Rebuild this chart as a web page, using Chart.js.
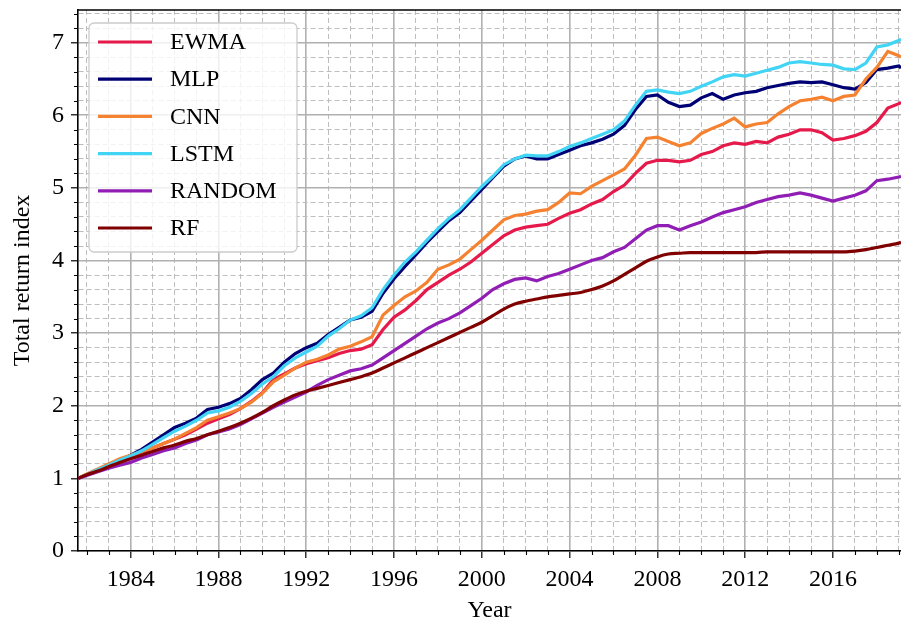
<!DOCTYPE html>
<html>
<head>
<meta charset="utf-8">
<title>Total return index</title>
<script src="https://cdn.jsdelivr.net/npm/chart.js@4.4.1/dist/chart.umd.min.js"></script>
<style>
  html, body { margin: 0; padding: 0; background: #fff; }
  #wrap { width: 901px; height: 628px; }
</style>
</head>
<body>
<div id="wrap"><canvas id="myChart" width="901" height="628"></canvas></div>
<script>
// sample dates (fractional years)
const years = [1981.6, 1982, 1982.5, 1983, 1983.5, 1984, 1984.5, 1985, 1985.5,
  1986, 1986.5, 1987, 1987.5, 1988, 1988.5, 1989, 1989.5, 1990, 1990.5,
  1991, 1991.5, 1992, 1992.5, 1993, 1993.5, 1994, 1994.5, 1995, 1995.5,
  1996, 1996.5, 1997, 1997.5, 1998, 1998.5, 1999, 1999.5, 2000, 2000.5,
  2001, 2001.5, 2002, 2002.5, 2003, 2003.5, 2004, 2004.5, 2005, 2005.5,
  2006, 2006.5, 2007, 2007.5, 2008, 2008.5, 2009, 2009.5, 2010, 2010.5,
  2011, 2011.5, 2012, 2012.5, 2013, 2013.5, 2014, 2014.5, 2015, 2015.5,
  2016, 2016.5, 2017, 2017.5, 2018, 2018.5, 2019, 2019.1];

const ewma = [1.00, 1.05, 1.12, 1.19, 1.25, 1.30, 1.36, 1.42, 1.48,
  1.54, 1.60, 1.68, 1.76, 1.82, 1.88, 1.96, 2.06, 2.18, 2.36,
  2.44, 2.52, 2.58, 2.62, 2.66, 2.72, 2.76, 2.78, 2.84, 3.05,
  3.22, 3.32, 3.45, 3.60, 3.70, 3.80, 3.88, 3.98, 4.10, 4.22,
  4.34, 4.42, 4.46, 4.48, 4.50, 4.58, 4.65, 4.70, 4.78, 4.84,
  4.95, 5.04, 5.20, 5.34, 5.38, 5.38, 5.36, 5.38, 5.46, 5.50,
  5.58, 5.62, 5.60, 5.64, 5.62, 5.70, 5.74, 5.80, 5.80, 5.76,
  5.66, 5.68, 5.72, 5.78, 5.90, 6.10, 6.16, 6.18];

const mlp = [1.00, 1.05, 1.12, 1.18, 1.25, 1.32, 1.40, 1.50, 1.60,
  1.70, 1.76, 1.83, 1.95, 1.98, 2.03, 2.10, 2.22, 2.36, 2.45,
  2.60, 2.72, 2.80, 2.86, 2.98, 3.08, 3.18, 3.22, 3.30, 3.55,
  3.75, 3.92, 4.08, 4.25, 4.40, 4.55, 4.66, 4.82, 4.98, 5.14,
  5.30, 5.40, 5.44, 5.40, 5.40, 5.46, 5.52, 5.58, 5.62, 5.67,
  5.74, 5.86, 6.08, 6.26, 6.28, 6.18, 6.12, 6.14, 6.24, 6.30,
  6.22, 6.28, 6.31, 6.33, 6.38, 6.41, 6.44, 6.46, 6.45, 6.46,
  6.42, 6.38, 6.36, 6.45, 6.63, 6.65, 6.68, 6.65];

const cnn = [1.00, 1.06, 1.13, 1.20, 1.27, 1.32, 1.37, 1.42, 1.48,
  1.54, 1.62, 1.70, 1.80, 1.85, 1.90, 1.96, 2.05, 2.17, 2.33,
  2.42, 2.52, 2.60, 2.64, 2.70, 2.78, 2.82, 2.88, 2.95, 3.25,
  3.38, 3.50, 3.58, 3.70, 3.88, 3.94, 4.02, 4.15, 4.28, 4.42,
  4.56, 4.62, 4.64, 4.68, 4.70, 4.80, 4.93, 4.92, 5.02, 5.10,
  5.18, 5.26, 5.45, 5.68, 5.70, 5.64, 5.58, 5.62, 5.75, 5.82,
  5.88, 5.96, 5.84, 5.88, 5.90, 6.02, 6.12, 6.20, 6.22, 6.25,
  6.20, 6.26, 6.28, 6.50, 6.66, 6.88, 6.82, 6.80];

const lstm = [1.00, 1.05, 1.12, 1.18, 1.25, 1.31, 1.38, 1.47, 1.56,
  1.65, 1.72, 1.80, 1.90, 1.93, 1.98, 2.06, 2.17, 2.30, 2.40,
  2.55, 2.66, 2.74, 2.82, 2.96, 3.06, 3.18, 3.24, 3.35, 3.60,
  3.80, 3.98, 4.12, 4.28, 4.44, 4.58, 4.70, 4.86, 5.02, 5.16,
  5.32, 5.40, 5.45, 5.44, 5.44, 5.50, 5.57, 5.62, 5.68, 5.74,
  5.80, 5.92, 6.14, 6.33, 6.35, 6.32, 6.30, 6.33, 6.40, 6.46,
  6.53, 6.56, 6.54, 6.58, 6.62, 6.66, 6.72, 6.74, 6.72, 6.70,
  6.69, 6.64, 6.63, 6.72, 6.94, 6.97, 7.03, 7.05];

const random = [1.00, 1.04, 1.09, 1.14, 1.18, 1.22, 1.28, 1.33, 1.38,
  1.42, 1.48, 1.53, 1.60, 1.64, 1.68, 1.74, 1.82, 1.90, 1.98,
  2.05, 2.12, 2.19, 2.28, 2.36, 2.42, 2.48, 2.51, 2.56, 2.66,
  2.76, 2.86, 2.96, 3.06, 3.14, 3.20, 3.28, 3.38, 3.48, 3.60,
  3.68, 3.74, 3.76, 3.72, 3.78, 3.82, 3.88, 3.94, 4.00, 4.04,
  4.12, 4.18, 4.30, 4.42, 4.48, 4.48, 4.42, 4.48, 4.53, 4.60,
  4.66, 4.70, 4.74, 4.80, 4.84, 4.88, 4.90, 4.93, 4.90, 4.86,
  4.82, 4.86, 4.90, 4.96, 5.10, 5.12, 5.15, 5.16];

const rf = [1.00, 1.05, 1.10, 1.16, 1.22, 1.27, 1.32, 1.37, 1.42,
  1.46, 1.51, 1.55, 1.60, 1.65, 1.70, 1.76, 1.83, 1.91, 2.00,
  2.08, 2.15, 2.20, 2.24, 2.28, 2.32, 2.36, 2.40, 2.45, 2.52,
  2.59, 2.66, 2.73, 2.80, 2.87, 2.94, 3.01, 3.08, 3.15, 3.24,
  3.33, 3.40, 3.44, 3.47, 3.50, 3.52, 3.54, 3.56, 3.60, 3.65,
  3.72, 3.81, 3.90, 3.99, 4.05, 4.09, 4.10, 4.11, 4.11, 4.11,
  4.11, 4.11, 4.11, 4.11, 4.12, 4.12, 4.12, 4.12, 4.12, 4.12,
  4.12, 4.12, 4.13, 4.15, 4.18, 4.21, 4.24, 4.25];

// tick labels
const xTickLabels = [1984, 1988, 1992, 1996, 2000, 2004, 2008, 2012, 2016];
const yTickLabels = [0, 1, 2, 3, 4, 5, 6, 7];

// minor tick positions: every year on x, every 0.2 on y
const xTicks = [];
for (let yr = 1982; yr <= 2019; yr++) xTicks.push(yr);
const yTicks = [];
for (let k = 0; k <= 37; k++) yTicks.push(Math.round(k * 2) / 10);

const isMajorX = v => xTickLabels.includes(v);
const isMajorY = v => Math.abs(v - Math.round(v)) < 1e-6;

const FONT = "'Liberation Serif', 'DejaVu Serif', serif";

const series = [
  { label: 'EWMA', values: ewma, color: '#e6194b' },
  { label: 'MLP', values: mlp, color: '#000075' },
  { label: 'CNN', values: cnn, color: '#f58231' },
  { label: 'LSTM', values: lstm, color: '#42d4f4' },
  { label: 'RANDOM', values: random, color: '#911eb4' },
  { label: 'RF', values: rf, color: '#800000' }
];

// legend box drawn inside the plot, top left
const legendBox = {
  id: 'legendBox',
  afterDatasetsDraw(chart) {
    const { ctx, chartArea: a } = chart;
    const bx = a.left + 11, by = a.top + 13, bw = 208, bh = 229;
    ctx.save();
    ctx.beginPath();
    ctx.roundRect(bx, by, bw, bh, 5);
    ctx.fillStyle = 'rgba(255,255,255,0.8)';
    ctx.fill();
    ctx.strokeStyle = '#cccccc';
    ctx.lineWidth = 1.3;
    ctx.stroke();
    ctx.font = '24px ' + FONT;
    ctx.textBaseline = 'middle';
    chart.data.datasets.forEach((ds, i) => {
      const ly = by + 19 + i * 37.2;
      ctx.strokeStyle = ds.borderColor;
      ctx.lineWidth = 3.2;
      ctx.beginPath();
      ctx.moveTo(bx + 9, ly);
      ctx.lineTo(bx + 63, ly);
      ctx.stroke();
      ctx.fillStyle = '#000';
      ctx.fillText(ds.label, bx + 81, ly + 1);
    });
    ctx.restore();
  }
};

// short minor ticks + top spine
const frameTicks = {
  id: 'frameTicks',
  afterDraw(chart) {
    const { ctx, chartArea: a, scales: { x, y } } = chart;
    ctx.save();
    ctx.strokeStyle = '#000';
    ctx.lineWidth = 1.1;
    ctx.beginPath();
    x.ticks.forEach(t => {
      if (isMajorX(t.value)) return;
      const px = Math.round(x.getPixelForValue(t.value)) + 0.5;
      ctx.moveTo(px, a.bottom);
      ctx.lineTo(px, a.bottom + 4);
    });
    y.ticks.forEach(t => {
      if (isMajorY(t.value)) return;
      const py = Math.round(y.getPixelForValue(t.value)) + 0.5;
      ctx.moveTo(a.left - 4, py);
      ctx.lineTo(a.left, py);
    });
    ctx.stroke();
    ctx.lineWidth = 1.6;
    ctx.beginPath();
    ctx.moveTo(a.left, a.top);
    ctx.lineTo(a.right, a.top);
    ctx.stroke();
    ctx.restore();
  }
};

const gridColor = major => major ? '#b0b0b0' : '#bdbdbd';

const ctx = document.getElementById('myChart').getContext('2d');
const myChart = new Chart(ctx, {
  type: 'line',
  data: {
    datasets: series.map((s, i) => ({
      label: s.label,
      data: years.map((yr, j) => ({ x: yr, y: s.values[j] })),
      borderColor: s.color,
      backgroundColor: s.color,
      borderWidth: 3.2,
      pointRadius: 0,
      tension: 0,
      cubicInterpolationMode: s.label === 'RF' ? 'monotone' : 'default',
      order: series.length - i
    }))
  },
  options: {
    responsive: false,
    animation: false,
    layout: { padding: { top: 10, right: 0, left: 0, bottom: 0 } },
    plugins: {
      legend: { display: false },
      tooltip: { enabled: false }
    },
    scales: {
      x: {
        type: 'linear',
        min: 1981.6,
        max: 2019.1,
        afterBuildTicks: s => { s.ticks = xTicks.map(v => ({ value: v })); },
        afterFit: s => { s.height = 77; s.paddingLeft = 0; s.paddingRight = 0; },
        ticks: {
          autoSkip: false,
          maxRotation: 0,
          padding: 7,
          color: '#000',
          font: { family: FONT, size: 24 },
          callback: v => isMajorX(v) ? String(v) : ''
        },
        grid: {
          color: c => gridColor(c.tick && isMajorX(c.tick.value)),
          lineWidth: c => (c.tick && isMajorX(c.tick.value)) ? 1.6 : 1,
          tickLength: 7,
          tickWidth: 1.2,
          tickColor: c => (c.tick && isMajorX(c.tick.value)) ? '#000' : 'rgba(0,0,0,0)'
        },
        border: {
          color: '#000',
          width: 1.6,
          dash: c => (c.tick && !isMajorX(c.tick.value)) ? [5, 3] : []
        },
        title: {
          display: true,
          text: 'Year',
          color: '#000',
          font: { family: FONT, size: 24 },
          padding: { top: 0, bottom: 3 }
        }
      },
      y: {
        min: 0,
        max: 7.45,
        afterBuildTicks: s => { s.ticks = yTicks.map(v => ({ value: v })); },
        afterFit: s => { s.width = 78; s.paddingTop = 0; s.paddingBottom = 0; },
        ticks: {
          autoSkip: false,
          padding: 7,
          color: '#000',
          font: { family: FONT, size: 24 },
          callback: v => isMajorY(v) && yTickLabels.includes(Math.round(v)) ? String(Math.round(v)) : ''
        },
        grid: {
          color: c => gridColor(c.tick && isMajorY(c.tick.value)),
          lineWidth: c => (c.tick && isMajorY(c.tick.value)) ? 1.6 : 1,
          tickLength: 7,
          tickWidth: 1.2,
          tickColor: c => (c.tick && isMajorY(c.tick.value)) ? '#000' : 'rgba(0,0,0,0)'
        },
        border: {
          color: '#000',
          width: 1.6,
          dash: c => (c.tick && !isMajorY(c.tick.value)) ? [5, 3] : []
        },
        title: {
          display: true,
          text: 'Total return index',
          color: '#000',
          font: { family: FONT, size: 24 },
          padding: { top: 8, bottom: 0 }
        }
      }
    }
  },
  plugins: [legendBox, frameTicks]
});
</script>
</body>
</html>
